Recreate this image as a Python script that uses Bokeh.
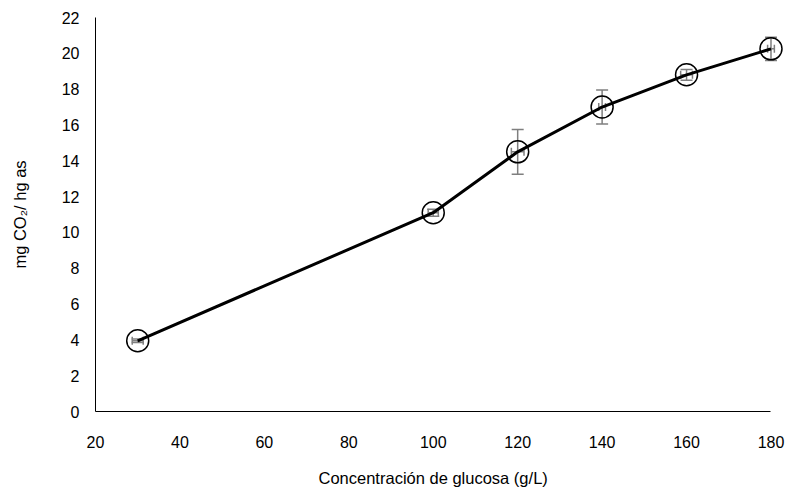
from bokeh.plotting import figure
from bokeh.models import ColumnDataSource, Whisker, TeeHead, Range1d, FixedTicker, Title
from bokeh.embed import file_html
from bokeh.resources import INLINE

# data
glucosa = [30, 100, 120, 140, 160, 180]
co2 = [3.95, 11.1, 14.5, 17.0, 18.8, 20.25]
err_y = [0.1, 0.2, 1.25, 0.95, 0.3, 0.65]
err_x = [1.3, 1.2, 1.5, 0.8, 1.4, 0.8]
x_ticks = [20, 40, 60, 80, 100, 120, 140, 160, 180]
y_ticks = [0, 2, 4, 6, 8, 10, 12, 14, 16, 18, 20, 22]
x_title = "Concentración de glucosa (g/L)"
y_title = "mg CO₂/ hg as"

src = ColumnDataSource(dict(
    x=glucosa, y=co2,
    ylo=[v - e for v, e in zip(co2, err_y)], yhi=[v + e for v, e in zip(co2, err_y)],
    xlo=[v - e for v, e in zip(glucosa, err_x)], xhi=[v + e for v, e in zip(glucosa, err_x)],
))

FONT = "Liberation Sans"
# x range extends a little past 180 so the last marker is not clipped;
# the axis line itself is bounded to 20..180
p = figure(width=788, height=502, output_backend="svg", toolbar_location=None,
           x_range=Range1d(20, 183.2), y_range=Range1d(0, 22),
           min_border_left=95, min_border_right=4, min_border_top=17, min_border_bottom=91)
p.outline_line_color = None
p.grid.visible = False

for ax in (p.xaxis[0], p.yaxis[0]):
    ax.major_tick_line_color = None
    ax.minor_tick_line_color = None
    ax.axis_line_color = "black"
    ax.axis_line_width = 1
    ax.major_label_text_font = FONT
    ax.major_label_text_font_size = "16px"
    ax.major_label_text_color = "black"
    ax.axis_label_text_font = FONT
    ax.axis_label_text_font_size = "16.5px"
    ax.axis_label_text_font_style = "normal"
    ax.axis_label_text_color = "black"

p.xaxis.bounds = (20, 180)
p.xaxis.ticker = FixedTicker(ticks=x_ticks)
p.yaxis.ticker = FixedTicker(ticks=y_ticks)
p.xaxis.major_label_standoff = 18
p.yaxis.major_label_standoff = 10
p.yaxis.axis_label = y_title
p.yaxis.axis_label_standoff = 30

# x-axis title centred under the 20..180 axis line (frame runs a bit further right)
p.add_layout(Title(text=x_title, align="left", offset=223, standoff=32,
                   vertical_align="bottom", text_baseline="middle",
                   text_font=FONT, text_font_size="16.5px", text_font_style="normal",
                   text_color="black"), "below")

p.line("x", "y", source=src, line_color="black", line_width=3)

vw = Whisker(source=src, base="x", lower="ylo", upper="yhi", dimension="height",
             line_color="#7f7f7f", line_width=1.5,
             lower_head=TeeHead(size=12, line_color="#7f7f7f", line_width=1.5),
             upper_head=TeeHead(size=12, line_color="#7f7f7f", line_width=1.5))
hw = Whisker(source=src, base="y", lower="xlo", upper="xhi", dimension="width",
             line_color="#7f7f7f", line_width=1.5,
             lower_head=TeeHead(size=8, line_color="#7f7f7f", line_width=1.5),
             upper_head=TeeHead(size=8, line_color="#7f7f7f", line_width=1.5))
p.add_layout(vw)
p.add_layout(hw)

p.scatter("x", "y", source=src, size=22, marker="circle", fill_color=None,
          line_color="black", line_width=1.5)

open("out.html", "w").write(file_html(p, INLINE))
